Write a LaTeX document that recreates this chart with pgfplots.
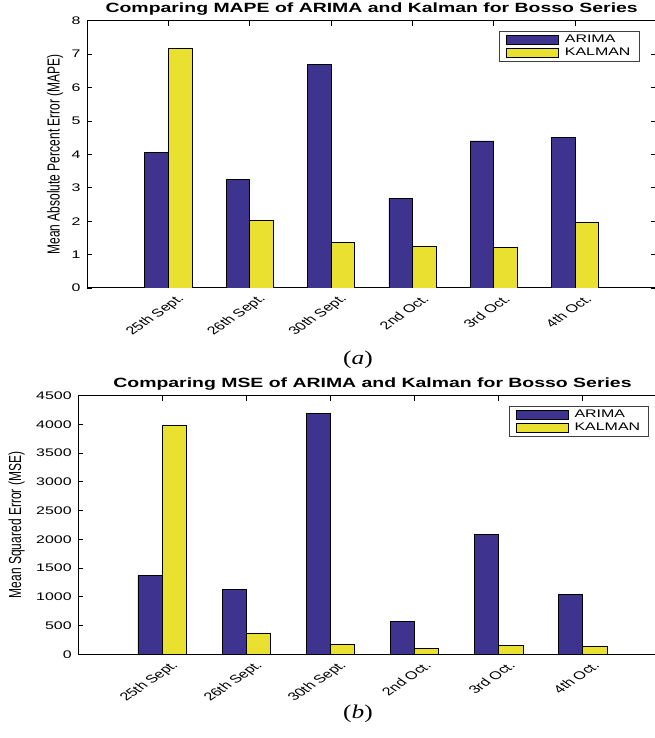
\documentclass[border=0pt]{standalone}
\usepackage{fontspec}
\usepackage{graphicx}
\setmainfont{Liberation Sans}[FakeStretch=1.45]
\newfontfamily\plainsans{Liberation Sans}
\newfontfamily\capfont{Liberation Serif}[FakeStretch=1.3]
\usepackage{pgfplots}
\pgfplotsset{compat=1.18}
\definecolor{arimacol}{RGB}{63,51,144}
\definecolor{kalmancol}{RGB}{234,224,48}
\pgfplotsset{
  bossostyle/.style={
    scale only axis,
    anchor=south west,
    xmin=0, xmax=7,
    xtick={1,2,3,4,5,6},
    xticklabels={25th Sept.,26th Sept.,30th Sept.,2nd Oct.,3rd Oct.,4th Oct.},
    ybar=0pt,
    bar width=0.289,
    axis line style={black, line width=1pt},
    tick style={black, line width=0.8pt},
    major tick length=5pt,
    tick align=inside,
    /pgf/number format/assume math mode=true,
    /pgf/number format/1000 sep={},
    scaled y ticks=false,
    yticklabel style={font=\fontsize{11}{12}\selectfont, xshift=-3pt},
    xticklabel style={font=\plainsans\fontsize{11.2}{12}\selectfont, anchor=east, xshift=17pt, yshift=-7pt, cm={1.025,0.707,-1.025,0.707,(0,0)}},
    ylabel style={font=\plainsans\fontsize{12}{14}\selectfont, anchor=center},
    title style={font=\bfseries\fontsize{13.4}{16}\selectfont, at={(0.5,1)}, anchor=base, yshift=2.5pt},
    legend cell align=left,
    legend image code/.code={\draw[#1] (0pt,-4.5pt) rectangle (52pt,4.5pt);},
    legend style={font=\fontsize{11}{13}\selectfont, draw=black!75, line width=0.7pt, fill=white, anchor=north east, inner xsep=6.5pt, inner ysep=2pt,
      /tikz/every odd column/.append style={column sep=4pt}},
    every axis plot/.append style={draw=black, line width=0.7pt},
  }
}
\begin{document}
\begin{tikzpicture}[x=1pt,y=1pt]
\begin{axis}[bossostyle,
  at={(87pt,450pt)}, width=569.4pt, height=267.3pt,
  ymin=0, ymax=8, ytick={0,1,2,3,4,5,6,7,8},
  title={Comparing MAPE of ARIMA and Kalman for Bosso Series},
  ylabel={\scalebox{1}[1.45]{Mean Absolute Percent Error (MAPE)}},
  ylabel style={at={(axis description cs:-0.0562,0.5)}},
  legend style={at={(0.970,0.9615)}},
]
\addplot[fill=arimacol] coordinates {(1,4.05) (2,3.25) (3,6.68) (4,2.69) (5,4.40) (6,4.50)};
\addplot[fill=kalmancol] coordinates {(1,7.16) (2,2.03) (3,1.37) (4,1.26) (5,1.21) (6,1.96)};
\legend{ARIMA,KALMAN}
\end{axis}
\begin{axis}[bossostyle,
  at={(78.2pt,83.7pt)}, width=588.6pt, height=258.6pt,
  ymin=0, ymax=4500, ytick={0,500,1000,1500,2000,2500,3000,3500,4000,4500},
  title={Comparing MSE of ARIMA and Kalman for Bosso Series},
  ylabel={\scalebox{1}[1.45]{Mean Squared Error (MSE)}},
  ylabel style={at={(axis description cs:-0.1045,0.5)}},
  legend style={at={(0.9698,0.9613)}},
]
\addplot[fill=arimacol] coordinates {(1,1375) (2,1131) (3,4187) (4,579) (5,2081) (6,1044)};
\addplot[fill=kalmancol] coordinates {(1,3990) (2,371) (3,174) (4,98) (5,150) (6,139)};
\legend{ARIMA,KALMAN}
\end{axis}
\node[font=\capfont\fontsize{19.5}{22}\selectfont] at (358pt,378.5pt) {(\textit{a})};
\node[font=\capfont\fontsize{19.5}{22}\selectfont] at (358pt,24pt) {(\textit{b})};
\pgfresetboundingbox
\useasboundingbox (0pt,0pt) rectangle (655pt,738pt);
\end{tikzpicture}
\end{document}
